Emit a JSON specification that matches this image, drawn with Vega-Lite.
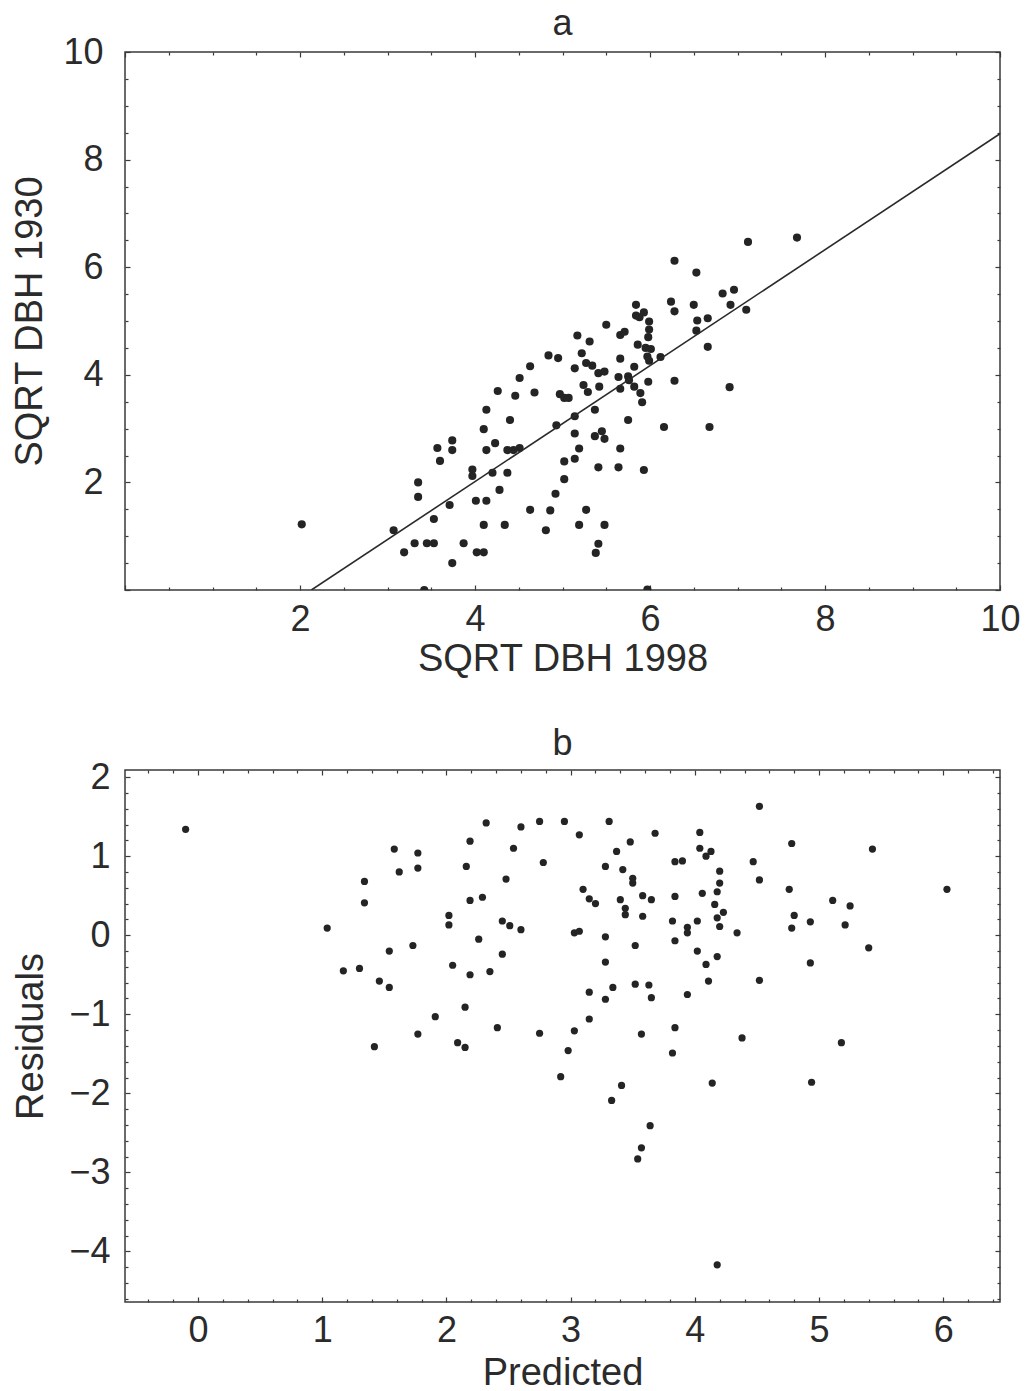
{
  "$schema": "https://vega.github.io/schema/vega-lite/v6.json",
  "background": "white",
  "padding": {"left": 11, "top": 5, "right": 20, "bottom": 0},
  "config": {
    "font": "Liberation Sans",
    "view": {"stroke": "#3a3a3a", "strokeWidth": 1.5},
    "axis": {
      "labelFont": "Liberation Sans", "labelFontSize": 36, "labelColor": "#2b2b2b",
      "titleFont": "Liberation Sans", "titleFontSize": 38, "titleFontWeight": "normal", "titleColor": "#2b2b2b",
      "grid": false, "domain": false, "tickColor": "#3a3a3a", "tickWidth": 1.2,
      "labelOverlap": false, "labelFlush": false
    },
    "title": {"font": "Liberation Sans", "fontSize": 36, "fontWeight": "normal", "color": "#2b2b2b"}
  },
  "datasets": {
    "pa": [
      {"x": 2.02, "y": 1.22}, {"x": 3.07, "y": 1.11}, {"x": 3.19, "y": 0.70}, {"x": 3.31, "y": 0.87},
      {"x": 3.45, "y": 0.87}, {"x": 3.53, "y": 0.87}, {"x": 3.35, "y": 2.00}, {"x": 3.35, "y": 1.73},
      {"x": 3.42, "y": 0.00}, {"x": 3.53, "y": 1.32}, {"x": 3.57, "y": 2.64}, {"x": 3.60, "y": 2.40},
      {"x": 3.71, "y": 1.58}, {"x": 3.74, "y": 2.78}, {"x": 3.74, "y": 2.60}, {"x": 3.74, "y": 0.50},
      {"x": 3.87, "y": 0.87}, {"x": 3.97, "y": 2.24}, {"x": 3.97, "y": 2.12}, {"x": 4.01, "y": 1.66},
      {"x": 4.02, "y": 0.70}, {"x": 4.10, "y": 0.70}, {"x": 4.10, "y": 1.21}, {"x": 4.13, "y": 1.66},
      {"x": 4.13, "y": 2.60}, {"x": 4.10, "y": 2.99}, {"x": 4.13, "y": 3.35}, {"x": 4.26, "y": 3.70},
      {"x": 4.23, "y": 2.73}, {"x": 4.20, "y": 2.18}, {"x": 4.28, "y": 1.86}, {"x": 4.34, "y": 1.21},
      {"x": 4.37, "y": 2.18}, {"x": 4.37, "y": 2.60}, {"x": 4.44, "y": 2.60}, {"x": 4.51, "y": 2.64},
      {"x": 4.40, "y": 3.16}, {"x": 4.46, "y": 3.61}, {"x": 4.51, "y": 3.94}, {"x": 4.63, "y": 4.16},
      {"x": 4.63, "y": 1.49}, {"x": 4.68, "y": 3.67}, {"x": 4.81, "y": 1.11}, {"x": 4.86, "y": 1.48},
      {"x": 4.84, "y": 4.36}, {"x": 4.95, "y": 4.31}, {"x": 4.92, "y": 1.79}, {"x": 4.93, "y": 3.06},
      {"x": 4.97, "y": 3.64}, {"x": 5.02, "y": 3.57}, {"x": 5.07, "y": 3.57}, {"x": 5.02, "y": 2.39},
      {"x": 5.02, "y": 2.06}, {"x": 5.14, "y": 4.12}, {"x": 5.17, "y": 4.73}, {"x": 5.14, "y": 3.23},
      {"x": 5.14, "y": 2.91}, {"x": 5.14, "y": 2.44}, {"x": 5.19, "y": 2.63}, {"x": 5.19, "y": 1.21},
      {"x": 5.27, "y": 1.49}, {"x": 5.22, "y": 4.40}, {"x": 5.24, "y": 3.81}, {"x": 5.29, "y": 3.68},
      {"x": 5.27, "y": 4.22}, {"x": 5.31, "y": 4.62}, {"x": 5.34, "y": 4.17}, {"x": 5.41, "y": 4.03},
      {"x": 5.48, "y": 4.06}, {"x": 5.42, "y": 3.78}, {"x": 5.37, "y": 3.35}, {"x": 5.37, "y": 2.86},
      {"x": 5.45, "y": 2.95}, {"x": 5.48, "y": 2.81}, {"x": 5.41, "y": 2.28}, {"x": 5.41, "y": 0.86},
      {"x": 5.38, "y": 0.69}, {"x": 5.48, "y": 1.21}, {"x": 5.50, "y": 4.93}, {"x": 5.64, "y": 2.28},
      {"x": 5.66, "y": 2.63}, {"x": 5.64, "y": 3.96}, {"x": 5.66, "y": 3.74}, {"x": 5.66, "y": 4.30},
      {"x": 5.66, "y": 4.74}, {"x": 5.71, "y": 4.80}, {"x": 5.75, "y": 3.97}, {"x": 5.76, "y": 3.90},
      {"x": 5.75, "y": 3.16}, {"x": 5.82, "y": 4.15}, {"x": 5.82, "y": 3.78}, {"x": 5.89, "y": 3.66},
      {"x": 5.91, "y": 3.49}, {"x": 5.93, "y": 2.23}, {"x": 5.84, "y": 5.30}, {"x": 5.84, "y": 5.10},
      {"x": 5.88, "y": 5.07}, {"x": 5.93, "y": 5.16}, {"x": 5.99, "y": 4.99}, {"x": 5.99, "y": 4.84},
      {"x": 5.98, "y": 4.70}, {"x": 5.86, "y": 4.56}, {"x": 5.95, "y": 4.50}, {"x": 6.01, "y": 4.48},
      {"x": 5.97, "y": 4.34}, {"x": 5.99, "y": 4.26}, {"x": 5.98, "y": 3.87}, {"x": 6.12, "y": 4.33},
      {"x": 6.16, "y": 3.03}, {"x": 5.97, "y": 0.01}, {"x": 6.28, "y": 6.12}, {"x": 6.24, "y": 5.36},
      {"x": 6.28, "y": 5.18}, {"x": 6.28, "y": 3.89}, {"x": 6.53, "y": 5.90}, {"x": 6.50, "y": 5.30},
      {"x": 6.54, "y": 5.01}, {"x": 6.53, "y": 4.82}, {"x": 6.66, "y": 5.05}, {"x": 6.66, "y": 4.52},
      {"x": 6.68, "y": 3.03}, {"x": 6.83, "y": 5.51}, {"x": 6.96, "y": 5.58}, {"x": 6.92, "y": 5.30},
      {"x": 6.91, "y": 3.77}, {"x": 7.10, "y": 5.21}, {"x": 7.12, "y": 6.47}, {"x": 7.68, "y": 6.55}
    ],
    "fit": [{"x": 2.13, "y": 0}, {"x": 10, "y": 8.48}],
    "pb": [
      {"p": -0.10, "r": 1.34}, {"p": 1.04, "r": 0.09}, {"p": 1.17, "r": -0.45}, {"p": 1.30, "r": -0.42},
      {"p": 1.34, "r": 0.68}, {"p": 1.34, "r": 0.41}, {"p": 1.42, "r": -1.41}, {"p": 1.46, "r": -0.58},
      {"p": 1.54, "r": -0.66}, {"p": 1.54, "r": -0.20}, {"p": 1.58, "r": 1.09}, {"p": 1.62, "r": 0.80},
      {"p": 1.73, "r": -0.13}, {"p": 1.77, "r": 1.04}, {"p": 1.77, "r": 0.85}, {"p": 1.77, "r": -1.25},
      {"p": 1.91, "r": -1.03}, {"p": 2.02, "r": 0.25}, {"p": 2.02, "r": 0.13}, {"p": 2.05, "r": -0.38},
      {"p": 2.09, "r": -1.36}, {"p": 2.15, "r": -1.42}, {"p": 2.15, "r": -0.91}, {"p": 2.19, "r": -0.50},
      {"p": 2.19, "r": 0.44}, {"p": 2.16, "r": 0.87}, {"p": 2.19, "r": 1.19}, {"p": 2.26, "r": -0.05},
      {"p": 2.29, "r": 0.48}, {"p": 2.32, "r": 1.42}, {"p": 2.35, "r": -0.46}, {"p": 2.41, "r": -1.17},
      {"p": 2.45, "r": 0.18}, {"p": 2.45, "r": -0.24}, {"p": 2.60, "r": 1.37}, {"p": 2.54, "r": 1.10},
      {"p": 2.78, "r": 0.92}, {"p": 2.75, "r": 1.44}, {"p": 2.95, "r": 1.44}, {"p": 3.07, "r": 1.27},
      {"p": 3.31, "r": 1.44}, {"p": 2.48, "r": 0.71}, {"p": 2.51, "r": 0.12}, {"p": 2.60, "r": 0.07},
      {"p": 2.75, "r": -1.24}, {"p": 3.03, "r": -1.21}, {"p": 2.98, "r": -1.46}, {"p": 3.15, "r": -1.06},
      {"p": 3.15, "r": -0.72}, {"p": 3.28, "r": -0.81}, {"p": 3.34, "r": -0.66}, {"p": 3.28, "r": -0.34},
      {"p": 3.28, "r": -0.02}, {"p": 3.03, "r": 0.03}, {"p": 3.07, "r": 0.05}, {"p": 3.10, "r": 0.58},
      {"p": 3.15, "r": 0.46}, {"p": 3.20, "r": 0.40}, {"p": 3.28, "r": 0.87}, {"p": 3.37, "r": 1.06},
      {"p": 3.42, "r": 0.83}, {"p": 3.48, "r": 1.18}, {"p": 3.40, "r": 0.45}, {"p": 3.50, "r": 0.72},
      {"p": 3.50, "r": 0.66}, {"p": 3.44, "r": 0.34}, {"p": 3.44, "r": 0.26}, {"p": 3.58, "r": 0.50},
      {"p": 3.58, "r": 0.24}, {"p": 3.65, "r": 0.45}, {"p": 3.68, "r": 1.29}, {"p": 3.52, "r": -0.13},
      {"p": 3.52, "r": -0.62}, {"p": 3.63, "r": -0.63}, {"p": 3.65, "r": -0.79}, {"p": 3.57, "r": -1.25},
      {"p": 3.82, "r": -1.49}, {"p": 3.84, "r": -1.17}, {"p": 3.94, "r": -0.75}, {"p": 3.82, "r": 0.18},
      {"p": 3.84, "r": 0.49}, {"p": 3.84, "r": -0.07}, {"p": 3.84, "r": 0.93}, {"p": 3.90, "r": 0.94},
      {"p": 3.94, "r": 0.10}, {"p": 3.94, "r": 0.03}, {"p": 4.02, "r": 0.18}, {"p": 4.02, "r": -0.20},
      {"p": 4.09, "r": -0.37}, {"p": 4.11, "r": -0.58}, {"p": 4.04, "r": 1.30}, {"p": 4.04, "r": 1.10},
      {"p": 4.09, "r": 1.00}, {"p": 4.13, "r": 1.06}, {"p": 4.06, "r": 0.53}, {"p": 4.20, "r": 0.81},
      {"p": 4.20, "r": 0.66}, {"p": 4.18, "r": 0.55}, {"p": 4.16, "r": 0.39}, {"p": 4.18, "r": 0.22},
      {"p": 4.23, "r": 0.29}, {"p": 4.20, "r": 0.11}, {"p": 4.18, "r": -0.27}, {"p": 4.34, "r": 0.03},
      {"p": 4.47, "r": 0.93}, {"p": 4.52, "r": 0.70}, {"p": 4.52, "r": 1.63}, {"p": 4.52, "r": -0.57},
      {"p": 4.38, "r": -1.30}, {"p": 4.78, "r": 1.16}, {"p": 4.76, "r": 0.58}, {"p": 4.80, "r": 0.25},
      {"p": 4.78, "r": 0.09}, {"p": 4.93, "r": 0.17}, {"p": 4.93, "r": -0.35}, {"p": 5.11, "r": 0.44},
      {"p": 5.25, "r": 0.37}, {"p": 5.21, "r": 0.13}, {"p": 5.43, "r": 1.09}, {"p": 5.40, "r": -0.16},
      {"p": 5.18, "r": -1.36}, {"p": 6.03, "r": 0.58}, {"p": 2.92, "r": -1.79}, {"p": 3.33, "r": -2.09},
      {"p": 3.41, "r": -1.90}, {"p": 3.64, "r": -2.41}, {"p": 3.57, "r": -2.69}, {"p": 3.54, "r": -2.83},
      {"p": 4.14, "r": -1.87}, {"p": 4.94, "r": -1.86}, {"p": 4.18, "r": -4.17}
    ]
  },
  "concat": [
    {
      "title": {"text": "a", "offset": -9},
      "width": 875,
      "height": 538,
      "layer": [
        {
          "data": {"name": "pa"},
          "mark": {"type": "circle", "size": 66, "opacity": 1, "color": "#242424", "clip": true},
          "encoding": {
            "x": {"field": "x", "type": "quantitative", "scale": {"domain": [0, 10], "nice": false, "zero": false},
              "axis": {"orient": "bottom", "title": "SQRT DBH 1998", "titlePadding": 1, "labelPadding": 17,
                "values": [0,0.5,1,1.5,2,2.5,3,3.5,4,4.5,5,5.5,6,6.5,7,7.5,8,8.5,9,9.5,10],
                "tickSize": {"condition": {"test": "abs(datum.value/2 - round(datum.value/2)) < 0.001", "value": -5}, "value": -3},
                "labelExpr": "abs(datum.value/2 - round(datum.value/2)) < 0.001 && datum.value > 0 ? format(datum.value, 'd') : ''"}},
            "y": {"field": "y", "type": "quantitative", "scale": {"domain": [0, 10], "nice": false, "zero": false},
              "axis": {"orient": "left", "title": "SQRT DBH 1930", "titlePadding": 13, "labelPadding": 27,
                "values": [0,0.5,1,1.5,2,2.5,3,3.5,4,4.5,5,5.5,6,6.5,7,7.5,8,8.5,9,9.5,10],
                "tickSize": {"condition": {"test": "abs(datum.value/2 - round(datum.value/2)) < 0.001", "value": -5}, "value": -3},
                "labelExpr": "abs(datum.value/2 - round(datum.value/2)) < 0.001 && datum.value > 0 ? format(datum.value, 'd') : ''"}}
          }
        },
        {
          "data": {"name": "fit"},
          "mark": {"type": "line", "color": "#2a2a2a", "strokeWidth": 1.6, "clip": true},
          "encoding": {
            "x": {"field": "x", "type": "quantitative",
              "axis": {"orient": "top", "title": null, "labels": false,
                "values": [0,0.5,1,1.5,2,2.5,3,3.5,4,4.5,5,5.5,6,6.5,7,7.5,8,8.5,9,9.5,10],
                "tickSize": {"condition": {"test": "abs(datum.value/2 - round(datum.value/2)) < 0.001", "value": -5}, "value": -3}}},
            "y": {"field": "y", "type": "quantitative",
              "axis": {"orient": "right", "title": null, "labels": false,
                "values": [0,0.5,1,1.5,2,2.5,3,3.5,4,4.5,5,5.5,6,6.5,7,7.5,8,8.5,9,9.5,10],
                "tickSize": {"condition": {"test": "abs(datum.value/2 - round(datum.value/2)) < 0.001", "value": -5}, "value": -3}}}
          }
        }
      ],
      "resolve": {"axis": {"x": "independent", "y": "independent"}}
    },
    {
      "title": {"text": "b", "offset": -4},
      "width": 875,
      "height": 532,
      "layer": [
        {
          "data": {"name": "pb"},
          "mark": {"type": "circle", "size": 52, "opacity": 1, "color": "#242424", "clip": true},
          "encoding": {
            "x": {"field": "p", "type": "quantitative", "scale": {"domain": [-0.588, 6.457], "nice": false, "zero": false},
              "axis": {"orient": "bottom", "title": "Predicted", "titlePadding": 4, "labelPadding": 16,
                "values": [-0.4,-0.2,0,0.2,0.4,0.6,0.8,1,1.2,1.4,1.6,1.8,2,2.2,2.4,2.6,2.8,3,3.2,3.4,3.6,3.8,4,4.2,4.4,4.6,4.8,5,5.2,5.4,5.6,5.8,6,6.2,6.4],
                "tickSize": {"condition": {"test": "abs(datum.value - round(datum.value)) < 0.001", "value": -5}, "value": -3},
                "labelExpr": "abs(datum.value - round(datum.value)) < 0.001 ? format(datum.value, 'd') : ''"}},
            "y": {"field": "r", "type": "quantitative", "scale": {"domain": [-4.64, 2.09], "nice": false, "zero": false},
              "axis": {"orient": "left", "title": "Residuals", "titlePadding": 18, "labelPadding": 20,
                "values": [-4.6,-4.4,-4.2,-4,-3.8,-3.6,-3.4,-3.2,-3,-2.8,-2.6,-2.4,-2.2,-2,-1.8,-1.6,-1.4,-1.2,-1,-0.8,-0.6,-0.4,-0.2,0,0.2,0.4,0.6,0.8,1,1.2,1.4,1.6,1.8,2],
                "tickSize": {"condition": {"test": "abs(datum.value - round(datum.value)) < 0.001", "value": -5}, "value": -3},
                "labelExpr": "abs(datum.value - round(datum.value)) < 0.001 ? (datum.value < 0 ? '\u2212' + format(-datum.value, 'd') : format(datum.value, 'd')) : ''"}}
          }
        },
        {
          "mark": {"type": "rule", "color": "#555555", "strokeWidth": 1.2},
          "encoding": {
            "y": {"datum": 0, "type": "quantitative",
              "axis": {"orient": "right", "title": null, "labels": false,
                "values": [-4.6,-4.4,-4.2,-4,-3.8,-3.6,-3.4,-3.2,-3,-2.8,-2.6,-2.4,-2.2,-2,-1.8,-1.6,-1.4,-1.2,-1,-0.8,-0.6,-0.4,-0.2,0,0.2,0.4,0.6,0.8,1,1.2,1.4,1.6,1.8,2],
                "tickSize": {"condition": {"test": "abs(datum.value - round(datum.value)) < 0.001", "value": -5}, "value": -3}}}
          }
        },
        {
          "data": {"name": "pb"},
          "mark": {"type": "point", "opacity": 0, "size": 1},
          "encoding": {
            "x": {"field": "p", "type": "quantitative",
              "axis": {"orient": "top", "title": null, "labels": false,
                "values": [-0.4,-0.2,0,0.2,0.4,0.6,0.8,1,1.2,1.4,1.6,1.8,2,2.2,2.4,2.6,2.8,3,3.2,3.4,3.6,3.8,4,4.2,4.4,4.6,4.8,5,5.2,5.4,5.6,5.8,6,6.2,6.4],
                "tickSize": {"condition": {"test": "abs(datum.value - round(datum.value)) < 0.001", "value": -5}, "value": -3}}}
          }
        }
      ],
      "resolve": {"axis": {"x": "independent", "y": "independent"}}
    }
  ],
  "columns": 1,
  "align": "none",
  "spacing": 46
}
